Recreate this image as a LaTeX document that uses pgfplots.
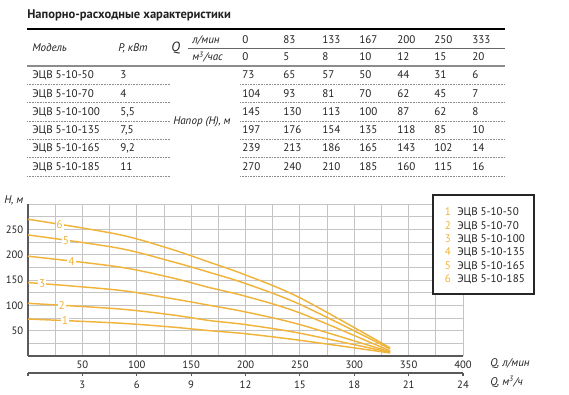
\documentclass[border=0pt]{standalone}
\usepackage{fontspec}
\setmainfont{PT Sans}
\usepackage{pgfplots}
\usepackage{pgfplotstable}
\pgfplotsset{compat=1.18}
\definecolor{orng}{HTML}{F0B43C}
\definecolor{gridc}{HTML}{C4C4C4}
\definecolor{axc}{HTML}{5A5A5A}
\definecolor{txt}{HTML}{222222}

\pgfplotstableread{
q h1 h2 h3 h4 h5 h6
0 73 104 145 197 239 270
83 65 93 130 176 213 240
133 57 81 113 154 186 210
167 50 70 100 135 165 185
200 44 62 87 118 143 160
250 31 45 62 85 102 115
333 6 7 8 10 14 16
}\pumps

\begin{document}
\begin{tikzpicture}
\path[use as bounding box] (0,0) rectangle (426.75pt,-295.5pt);

\begin{axis}[at={(21pt,-267pt)}, anchor=south west, scale only axis,
  width=326.25pt, height=114pt,
  xmin=0, xmax=400, ymin=0, ymax=300,
  axis x line*=bottom, axis y line*=left,
  xtick={50,100,...,400}, ytick={50,100,...,250},
  minor xtick={25,75,...,375}, minor ytick={25,75,...,275,300},
  grid=both, grid style={gridc, line width=0.6pt},
  major tick length=0pt, minor tick length=0pt,
  axis line style={axc, line width=0.9pt},
  tick label style={font=\fontsize{8}{9}\selectfont, text=txt},
  /pgf/number format/assume math mode=true,
  clip=false]
\addplot[orng, line width=1.1pt, smooth] table[x=q,y=h1]{\pumps};
\addplot[orng, line width=1.1pt, smooth] table[x=q,y=h2]{\pumps};
\addplot[orng, line width=1.1pt, smooth] table[x=q,y=h3]{\pumps};
\addplot[orng, line width=1.1pt, smooth] table[x=q,y=h4]{\pumps};
\addplot[orng, line width=1.1pt, smooth] table[x=q,y=h5]{\pumps};
\addplot[orng, line width=1.1pt, smooth] table[x=q,y=h6]{\pumps};
\tikzset{lab/.style={text=orng, fill=white, inner sep=0.7pt, font=\fontsize{8.5}{9}\selectfont}}
\node[lab] at (axis cs:34,70) {1};
\node[lab] at (axis cs:31,100) {2};
\node[lab] at (axis cs:13,143) {3};
\node[lab] at (axis cs:40,187) {4};
\node[lab] at (axis cs:35,228) {5};
\node[lab] at (axis cs:29,259) {6};
\end{axis}

\begin{axis}[at={(21pt,-279.75pt)}, anchor=south west, scale only axis,
  width=326.25pt, height=1pt,
  xmin=0, xmax=24, ymin=0, ymax=1,
  axis x line*=bottom, axis y line=none,
  xtick={3,6,...,24}, extra x ticks={0}, extra x tick labels={},
  tick align=outside, major tick length=2.5pt,
  tick style={axc, line width=0.8pt},
  axis line style={axc, line width=0.9pt},
  tick label style={font=\fontsize{8}{9}\selectfont, text=txt},
  /pgf/number format/assume math mode=true]
\addplot[draw=none] coordinates {(0,0)};
\end{axis}

\begin{scope}[x=0.75pt,y=-0.75pt, font=\fontsize{8.3}{10}\selectfont, text=txt]
% title
\node[anchor=west, inner sep=0pt, font=\fontsize{9.4}{11}\selectfont\bfseries] at (27,15) {Напорно-расходные характеристики};
% rules
\draw[line width=1pt, black] (27,29)--(505,29);
\draw[line width=0.7pt, black!60] (188,48)--(505,48);
\draw[line width=1.3pt, black!45] (27,66)--(505,66);
\foreach \yy in {84,102,121,139,157,176}{
  \draw[line width=0.6pt, black!45, dash pattern=on 0.6pt off 0.6pt] (27,\yy)--(170,\yy) (240,\yy)--(505,\yy);
}
\begin{scope}[every node/.style={anchor=west, inner sep=0pt}]
\node[font=\fontsize{8.3}{10}\selectfont\itshape] at (32,48) {Модель};
\node[font=\fontsize{8.3}{10}\selectfont\itshape] at (118,48) {P, кВт};
\node[font=\fontsize{10}{11}\selectfont\itshape] at (171,48) {Q};
\node[font=\fontsize{8.3}{10}\selectfont\itshape] at (192,40) {л/мин};
\node[font=\fontsize{8.3}{10}\selectfont\itshape] at (192,57) {м\textsuperscript{3}/час};
\node[font=\fontsize{8.3}{10}\selectfont\itshape] at (173,122) {Напор (Н), м};
\foreach \xx/\a/\b in {242/0/0, 283/83/5, 322/133/8, 359/167/10, 397/200/12, 434/250/15, 472/333/20}{
  \node at (\xx,40) {\a};
  \node at (\xx,57) {\b};
}
\foreach \yy/\m/\p/\va/\vb/\vc/\vd/\ve/\vf/\vg in {
  75/ЭЦВ 5-10-50/3/73/65/57/50/44/31/6,
  94/ЭЦВ 5-10-70/4/104/93/81/70/62/45/7,
  112/ЭЦВ 5-10-100/{5,5}/145/130/113/100/87/62/8,
  130/ЭЦВ 5-10-135/{7,5}/197/176/154/135/118/85/10,
  148/ЭЦВ 5-10-165/{9,2}/239/213/186/165/143/102/14,
  167/ЭЦВ 5-10-185/11/270/240/210/185/160/115/16}{
  \node at (32,\yy) {\m};
  \node at (120,\yy) {\p};
  \node at (242,\yy) {\va};
  \node at (283,\yy) {\vb};
  \node at (322,\yy) {\vc};
  \node at (359,\yy) {\vd};
  \node at (397,\yy) {\ve};
  \node at (434,\yy) {\vf};
  \node at (472,\yy) {\vg};
}
% axis labels
\node[font=\fontsize{8.3}{10}\selectfont\itshape] at (4,200) {H, м};
\node[font=\fontsize{8.3}{10}\selectfont\itshape] at (490,364) {Q, л/мин};
\node[font=\fontsize{8.3}{10}\selectfont\itshape] at (490,382) {Q, м\textsuperscript{3}/ч};
\end{scope}
% legend
\draw[fill=white, draw=black!85, line width=0.9pt] (433,195) rectangle (534,294);
\foreach \yy/\n/\m in {212/1/ЭЦВ 5-10-50, 226/2/ЭЦВ 5-10-70, 239/3/ЭЦВ 5-10-100, 252/4/ЭЦВ 5-10-135, 266/5/ЭЦВ 5-10-165, 279/6/ЭЦВ 5-10-185}{
  \node[text=orng, inner sep=0pt] at (448,\yy) {\n};
  \node[anchor=west, inner sep=0pt] at (457,\yy) {\m};
}
\end{scope}
\end{tikzpicture}
\end{document}
